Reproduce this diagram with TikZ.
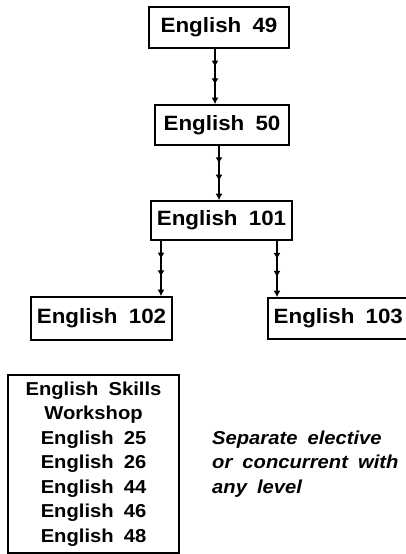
\documentclass[tikz,border=0pt]{standalone}
\usepackage{fontspec}
\setmainfont{Liberation Sans}[FakeStretch=1.08,WordSpace=1.8]
\usetikzlibrary{arrows.meta,decorations.markings}
\tikzset{>={Latex[length=6.5pt,width=7pt]}}
\tikzset{
  course/.style = {draw,line width=1.6pt,inner xsep=5pt,minimum height=41pt,
    font=\fontsize{20.7}{24}\selectfont\bfseries},
  flow/.style = {
    ->,line width=1.6pt,
    decoration={markings,
      mark=at position 0.33 with {\arrow{>}},
      mark=at position 0.65 with {\arrow{>}}},
    postaction={decorate}
  }
}

\begin{document}
\begin{tikzpicture}[x=1pt,y=-1pt]
  \useasboundingbox (0,0) rectangle (405,554);
  \node[course,minimum width=140pt] (e49) at (219,27.5) {English 49};
  \node[course,minimum width=134pt,minimum height=40pt] (e50) at (222,125) {English 50};
  \node[course,minimum width=141pt,minimum height=39pt] (e101) at (221.5,220.5) {English 101};
  \node[course,minimum width=141pt,minimum height=43pt] (e102) at (101.5,318.5) {English 102};
  \node[course,anchor=west,minimum width=141pt] (e103) at (267,318.5) {English 103};
  \draw[flow] ([xshift=-4pt]e49.south) -- ([xshift=-4pt]e49.south |- e50.north);
  \draw[flow] ([xshift=-3pt]e50.south) -- ([xshift=-3pt]e50.south |- e101.north);
  \draw[flow] ([xshift=-60.5pt]e101.south) -- ([xshift=-60.5pt]e101.south |- e102.north);
  \draw[flow] ([xshift=55.5pt]e101.south) -- ([xshift=55.5pt]e101.south |- e103.north);
  % electives, not in the chain
  \node[draw,line width=1.6pt,align=center,minimum width=171pt,minimum height=178pt,
    font=\fontsize{18.7}{24.5}\selectfont\bfseries] (skills) at (93.5,464)
    {English Skills\\Workshop\\English 25\\English 26\\English 44\\English 46\\English 48};
  \node[anchor=west,align=left,inner sep=0pt,
    font=\fontsize{18.7}{24.5}\selectfont\bfseries\itshape] (note) at (212,464)
    {Separate elective\\or concurrent with\\any level};
\end{tikzpicture}
\end{document}
